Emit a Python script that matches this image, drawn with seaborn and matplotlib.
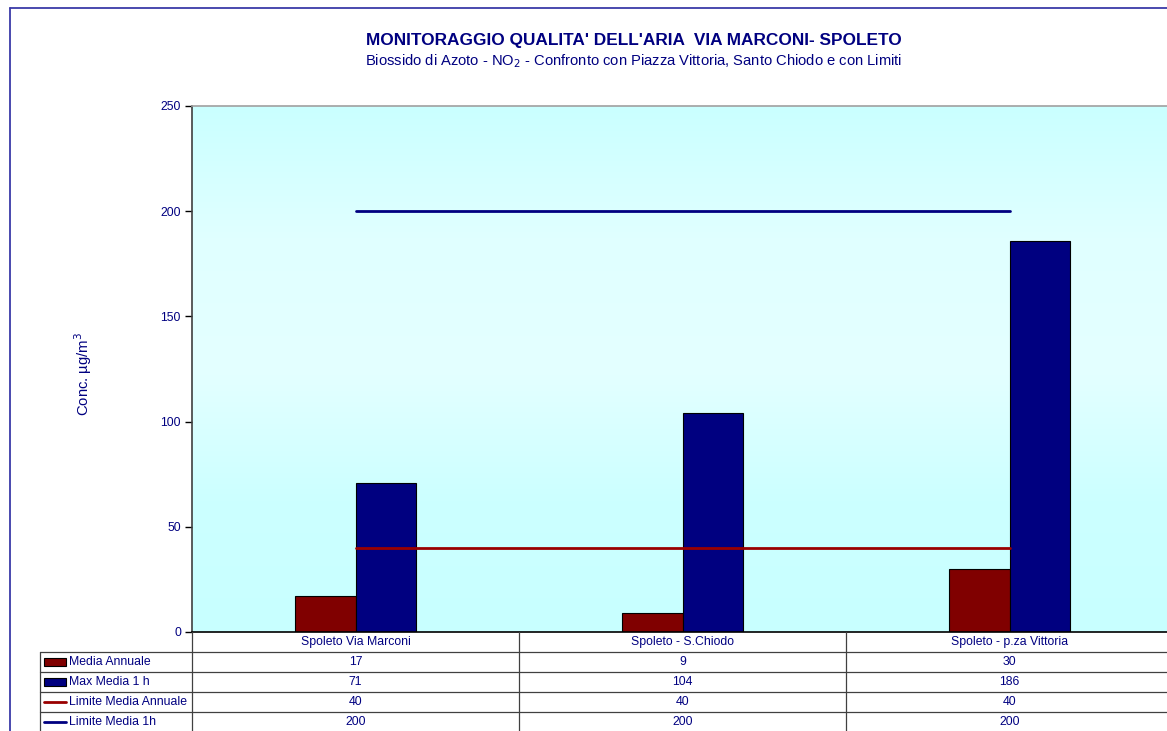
"""Excel-style NO2 comparison chart with data table below the axis."""

import matplotlib

matplotlib.use("Agg", force=True)

import matplotlib.pyplot as plt
import numpy as np
import pandas as pd
import seaborn as sns
from matplotlib.colors import LinearSegmentedColormap
from matplotlib.lines import Line2D
from matplotlib.patches import Rectangle

stations = ["Spoleto Via Marconi", "Spoleto - S.Chiodo", "Spoleto - p.za Vittoria"]
media_annuale = [17, 9, 30]
max_media_1h = [71, 104, 186]
limite_annuale = [40, 40, 40]
limite_1h = [200, 200, 200]

series_names = ["Media Annuale", "Max Media 1 h", "Limite Media Annuale", "Limite Media 1h"]
yticks = [0, 50, 100, 150, 200, 250]

RED = "#800000"
NAVY = "#000080"
TEXT = "#000080"
SMALL = 8.8

sns.set_theme(style="white")
plt.rcParams["font.family"] = ["Liberation Sans", "DejaVu Sans"]

W, H = 1167, 731
fig = plt.figure(figsize=(W / 100, H / 100), dpi=100)


def fx(px):
    return px / W


def fy(py):
    return 1 - py / H


ax = fig.add_axes([fx(192), fy(632), fx(1173 - 192), (632 - 106) / H])

# gradient background
grad = LinearSegmentedColormap.from_list(
    "bg", ["#c8ffff", "#ccffff", "#e4ffff", "#e0ffff", "#caffff"]
)
ax.imshow(
    np.linspace(1, 0, 256).reshape(-1, 1),
    cmap=grad,
    aspect="auto",
    extent=(-0.5, 2.5, 0, 250),
    zorder=0,
)

bars = pd.DataFrame(
    {
        "station": stations * 2,
        "value": media_annuale + max_media_1h,
        "series": [series_names[0]] * 3 + [series_names[1]] * 3,
    }
)
sns.barplot(
    data=bars,
    x="station",
    y="value",
    hue="series",
    palette=[RED, NAVY],
    saturation=1,
    width=0.367,
    edgecolor="black",
    linewidth=0.8,
    legend=False,
    ax=ax,
    zorder=2,
)

pos = np.arange(len(stations))
sns.lineplot(x=pos, y=limite_annuale, color="#990000", linewidth=2, ax=ax, zorder=3)
sns.lineplot(x=pos, y=limite_1h, color=NAVY, linewidth=2, ax=ax, zorder=3)

ax.set_xlim(-0.5, 2.5)
ax.set_ylim(0, 250)
ax.set_yticks(yticks)
ax.set_yticklabels([str(t) for t in yticks], color=TEXT, fontsize=SMALL)
ax.set_xticks([])
ax.set_xlabel("")
ax.set_ylabel("Conc. µg/m$^3$", color=TEXT, fontsize=10.7)
ax.yaxis.set_label_coords(-0.100, 0.49)
ax.tick_params(axis="y", direction="out", length=5, width=1, color="black", pad=3, left=True)
for side, sp in ax.spines.items():
    sp.set_visible(side in ("left", "bottom", "top"))
    sp.set_linewidth(1.2)
ax.spines["left"].set_color("#404040")
ax.spines["bottom"].set_color("black")
ax.spines["top"].set_color("#a0a0a0")

# titles
fig.text(fx(634), fy(40), "MONITORAGGIO QUALITA' DELL'ARIA  VIA MARCONI- SPOLETO",
         ha="center", va="center", fontsize=12.4, fontweight="bold", color=TEXT)
fig.text(fx(634), fy(61),
         "Biossido di Azoto - NO$_2$ - Confronto con Piazza Vittoria, Santo Chiodo e con Limiti",
         ha="center", va="center", fontsize=10.6, color=TEXT)

# outer frame
fig.add_artist(Line2D([fx(10), 1.01], [fy(8), fy(8)], color="#3a3aa8", lw=1.3))
fig.add_artist(Line2D([fx(10), fx(10)], [fy(8), -0.01], color="#3a3aa8", lw=1.3))

# data table
row_tops = [652, 672, 692, 712]
for y in row_tops:
    fig.add_artist(Line2D([fx(40), 1.01], [fy(y), fy(y)], color="#404040", lw=0.9))
fig.add_artist(Line2D([fx(40), fx(40)], [fy(652), -0.01], color="#404040", lw=0.9))
for x in [192, 519, 846]:
    fig.add_artist(Line2D([fx(x), fx(x)], [fy(632), -0.01], color="#404040", lw=0.9))

centers = [192 + 327 * (i + 0.5) for i in range(len(stations))]
for cx, name in zip(centers, stations):
    fig.text(fx(cx), fy(642), name, ha="center", va="center", fontsize=SMALL, color=TEXT)

rows = [media_annuale, max_media_1h, limite_annuale, limite_1h]
for r, (name, vals) in enumerate(zip(series_names, rows)):
    ymid = row_tops[r] + 10
    if r < 2:
        fig.add_artist(Rectangle((fx(44), fy(ymid + 4)), fx(22), 8 / H,
                                 facecolor=[RED, NAVY][r], edgecolor="black", lw=0.8))
    else:
        fig.add_artist(Line2D([fx(44), fx(66)], [fy(ymid), fy(ymid)],
                              color=["#990000", NAVY][r - 2], lw=2))
    fig.text(fx(69), fy(ymid), name, ha="left", va="center", fontsize=SMALL, color=TEXT)
    for cx, v in zip(centers, vals):
        fig.text(fx(cx), fy(ymid), str(v), ha="center", va="center", fontsize=SMALL, color=TEXT)

fig.savefig("out.png", dpi=100)
plt.close(fig)
